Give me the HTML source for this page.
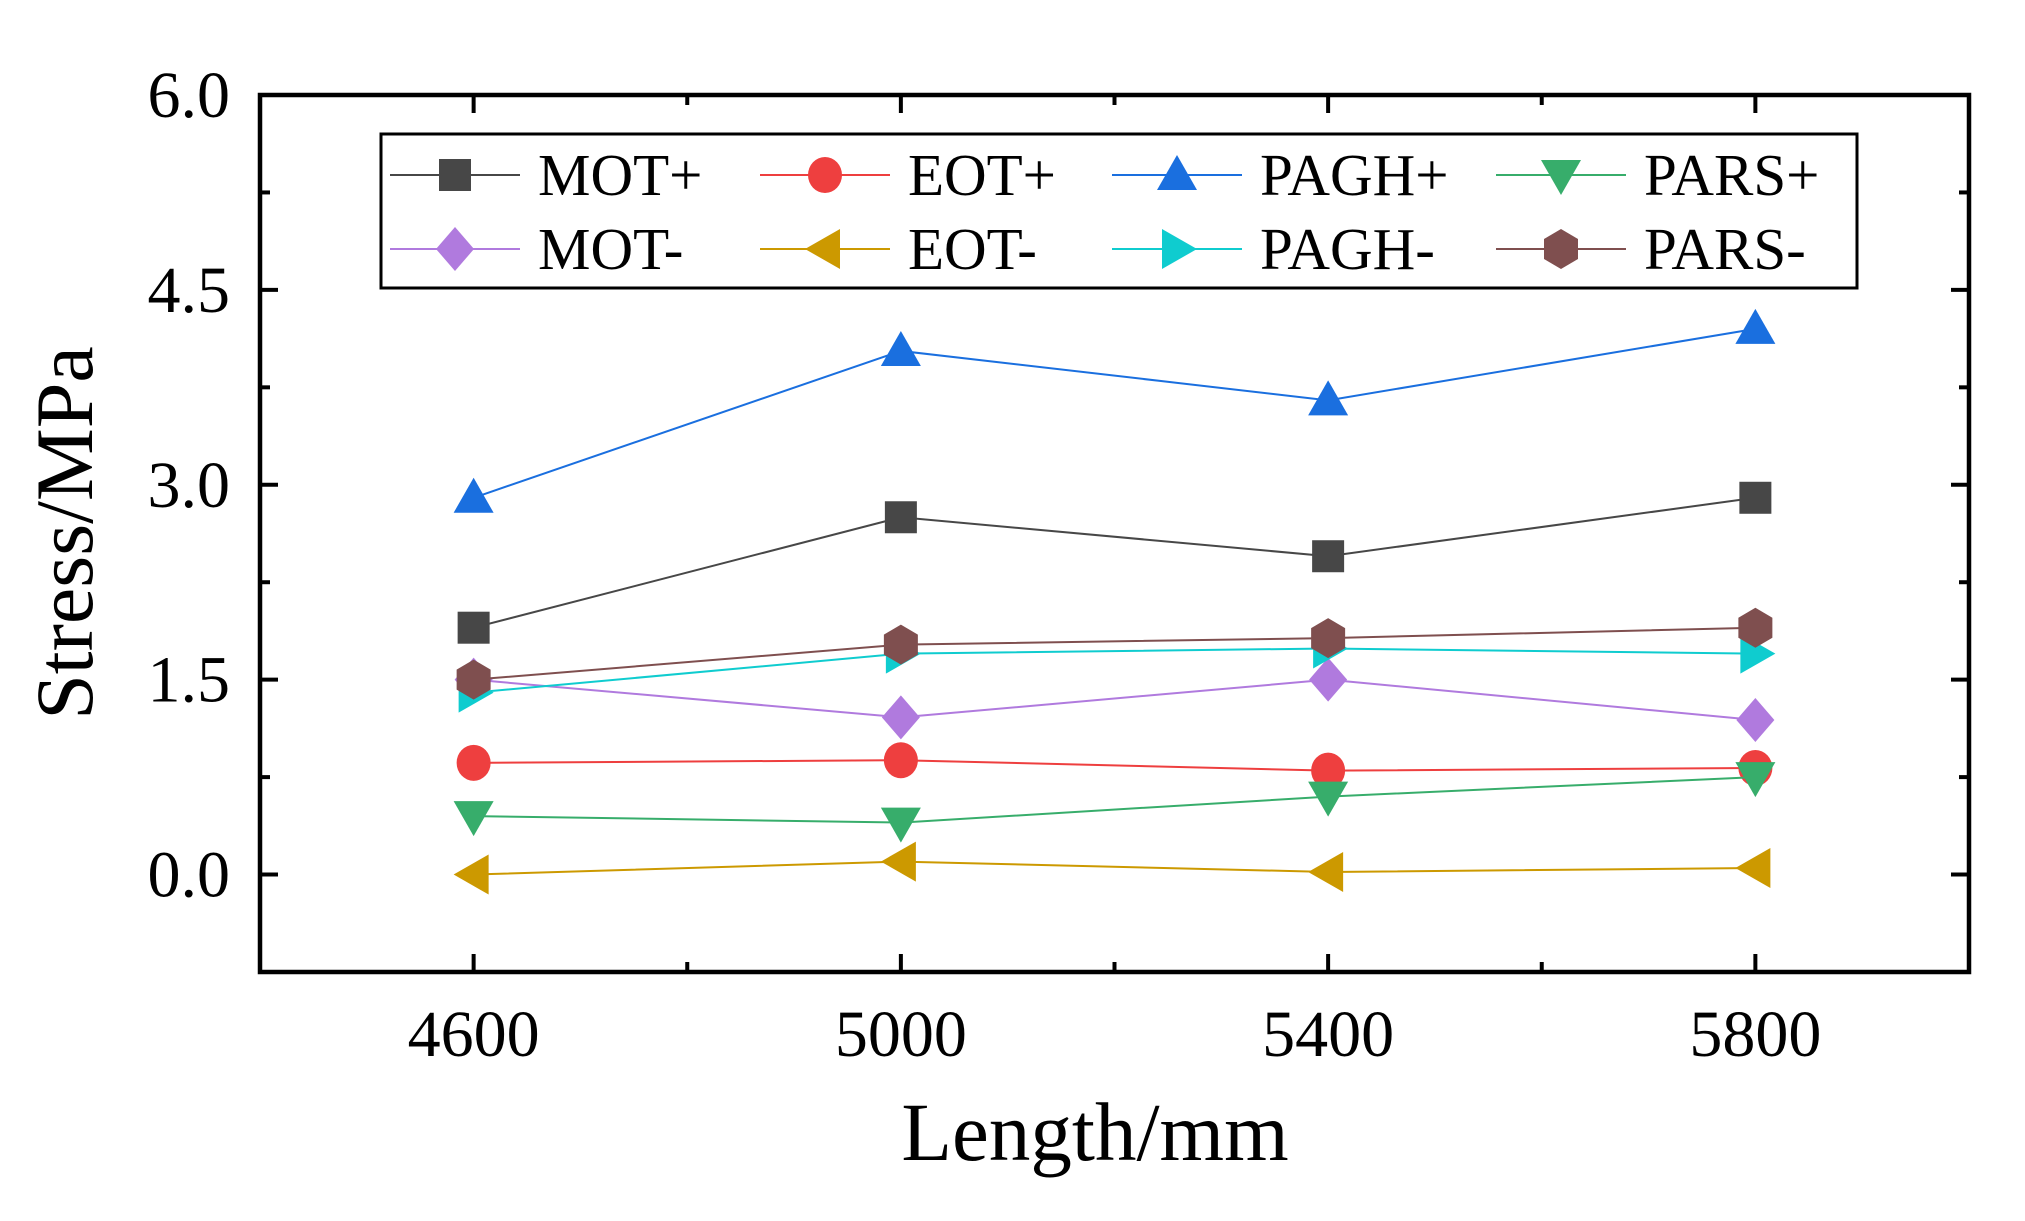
<!DOCTYPE html>
<html><head><meta charset="utf-8"><style>
html,body{margin:0;padding:0;background:#fff;}
svg{display:block;font-family:"Liberation Serif",serif;}
</style></head><body>
<svg id="chart" width="2025" height="1221" viewBox="0 0 2025 1221">
<g id="axes"></g>
<g id="series"></g>
<g id="legend"></g>
</svg>
<script>
const categories = [4600, 5000, 5400, 5800];
const seriesNames = ["MOT+","EOT+","PAGH+","PARS+","MOT-","EOT-","PAGH-","PARS-"];
const motPlus  = [1.9, 2.75, 2.45, 2.9];
const eotPlus  = [0.86, 0.88, 0.8, 0.82];
const paghPlus = [2.9, 4.03, 3.65, 4.2];
const parsPlus = [0.45, 0.4, 0.6, 0.75];
const motMinus = [1.5, 1.21, 1.5, 1.19];
const eotMinus = [0.0, 0.1, 0.02, 0.05];
const paghMinus= [1.4, 1.7, 1.74, 1.7];
const parsMinus= [1.5, 1.77, 1.82, 1.9];
const yTicks = ["0.0","1.5","3.0","4.5","6.0"];
const xTicks = ["4600","5000","5400","5800"];

const NS="http://www.w3.org/2000/svg";
const L=260,R=1978-9,T=95,B=972;
const xMin=4400,xMax=6000,yMin=-0.75,yMax=6;
const xS=v=>L+(v-xMin)/(xMax-xMin)*(R-L);
const yS=v=>B-(v-yMin)/(yMax-yMin)*(B-T);
function mk(tag,attrs,parent){const e=document.createElementNS(NS,tag);for(const k in attrs)e.setAttribute(k,attrs[k]);parent.appendChild(e);return e;}
const axes=document.getElementById('axes');
const frame=mk('rect',{x:L,y:T,width:R-L,height:B-T,fill:'none',stroke:'#000','stroke-width':4.5},axes);


for(let v=0;v<=6.001;v+=0.75){
  const major=Math.abs(v/1.5-Math.round(v/1.5))<1e-6;
  const len=major?18:10;const y=yS(v);
  const t1=mk('line',{x1:L,y1:y,x2:L+len,y2:y,stroke:'#000','stroke-width':4},axes);
  
  
  const t2=mk('line',{x1:R,y1:y,x2:R-len,y2:y,stroke:'#000','stroke-width':4},axes);
  
  
}
yTicks.forEach(s=>{
  const t=mk('text',{x:L-30,y:yS(parseFloat(s))+22,'text-anchor':'end','font-size':66},axes);
  t.textContent=s;
  
  
});
for(let v=4600;v<=5800;v+=200){
  const major=(v-4600)%400===0;const len=major?18:10;const x=xS(v);
  const t1=mk('line',{x1:x,y1:B,x2:x,y2:B-len,stroke:'#000','stroke-width':4},axes);
  
  
  const t2=mk('line',{x1:x,y1:T,x2:x,y2:T+len,stroke:'#000','stroke-width':4},axes);
  
  
}
xTicks.forEach(s=>{
  const t=mk('text',{x:xS(parseFloat(s)),y:1056,'text-anchor':'middle','font-size':66},axes);
  t.textContent=s;
  
  
});
const xt=mk('text',{x:1095,y:1160,'text-anchor':'middle','font-size':83},axes);
xt.textContent='Length/mm';


const yt=mk('text',{x:0,y:0,'text-anchor':'middle','font-size':82,transform:'translate(92,533) rotate(-90)'},axes);
yt.textContent='Stress/MPa';



const colors=["#474747","#ee3f3f","#1a6fdf","#37ad6b","#b07ade","#cc9900","#0fcccf","#7f4f4f"];
const shapes=["square","circle","up","down","diamond","left","right","hex"];
const data=[motPlus,eotPlus,paghPlus,parsPlus,motMinus,eotMinus,paghMinus,parsMinus];
function marker(shape,x,y,c,parent){
  const r=20;let e;
  if(shape==='square')e=mk('rect',{x:x-16,y:y-16,width:32,height:32,fill:c},parent);
  else if(shape==='circle')e=mk('ellipse',{cx:x,cy:y,rx:17,ry:18,fill:c},parent);
  else{
    let p;
    if(shape==='up')p=[[0,-r],[r,r*0.75],[-r,r*0.75]];
    else if(shape==='down')p=[[0,r],[r,-r*0.75],[-r,-r*0.75]];
    else if(shape==='left')p=[[-r,0],[r*0.75,-r],[r*0.75,r]];
    else if(shape==='right')p=[[r,0],[-r*0.75,-r],[-r*0.75,r]];
    else if(shape==='diamond')p=[[0,-22],[19,0],[0,22],[-19,0]];
    else p=[[0,-20],[17,-10],[17,10],[0,20],[-17,10],[-17,-10]];
    e=mk('polygon',{points:p.map(q=>(x+q[0])+','+(y+q[1])).join(' '),fill:c},parent);
  }
  return e;
}
const sg=document.getElementById('series');
data.forEach((arr,i)=>{
  const g=mk('g',{},sg);
  
  
  const pl=mk('polyline',{points:arr.map((v,j)=>xS(categories[j])+','+yS(v)).join(' '),fill:'none',stroke:colors[i],'stroke-width':2},g);
  
  
  arr.forEach((v,j)=>{
    const m=marker(shapes[i],xS(categories[j]),yS(v),colors[i],g);
    
    
  });
});
const lg=document.getElementById('legend');
const box=mk('rect',{x:381,y:134,width:1476,height:154,fill:'#fff',stroke:'#000','stroke-width':3},lg);


const colX=[390,760,1112,1496];const rowY=[175,249];
seriesNames.forEach((n,i)=>{
  const x=colX[i%4],y=rowY[Math.floor(i/4)];
  const g=mk('g',{},lg);
  
  
  mk('line',{x1:x,y1:y,x2:x+130,y2:y,stroke:colors[i],'stroke-width':2},g);
  marker(shapes[i],x+65,y,colors[i],g);
  const t=mk('text',{x:x+148,y:y+20,'font-size':59},g);
  t.textContent=n;
});
</script>
</body></html>
